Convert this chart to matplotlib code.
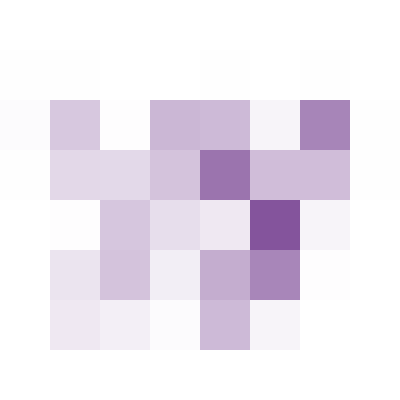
import matplotlib.pyplot as plt
import numpy as np
from matplotlib.colors import LinearSegmentedColormap

# cell intensities, rows top to bottom, 8 x 8 grid
row0 = [0.00, 0.00, 0.00, 0.00, 0.00, 0.00, 0.00, 0.00]
row1 = [0.005, 0.005, 0.00, 0.00, 0.005, 0.00, 0.005, 0.00]
row2 = [0.02, 0.32, 0.01, 0.42, 0.40, 0.06, 0.71, 0.005]
row3 = [0.005, 0.23, 0.22, 0.35, 0.81, 0.38, 0.38, 0.005]
row4 = [0.00, 0.01, 0.33, 0.19, 0.13, 1.00, 0.06, 0.00]
row5 = [0.00, 0.16, 0.35, 0.10, 0.48, 0.70, 0.01, 0.00]
row6 = [0.00, 0.13, 0.09, 0.02, 0.40, 0.06, 0.00, 0.00]
row7 = [0.00, 0.00, 0.00, 0.00, 0.00, 0.00, 0.00, 0.00]

grid = np.array([row0, row1, row2, row3, row4, row5, row6, row7])

cmap = LinearSegmentedColormap.from_list("purp", ["#ffffff", "#84549c"])

fig = plt.figure(figsize=(4, 4), dpi=100)
ax = fig.add_axes([0, 0, 1, 1])
ax.imshow(grid, cmap=cmap, vmin=0, vmax=1, aspect="auto", interpolation="nearest")
ax.axis("off")

fig.savefig("out.png", dpi=100)
